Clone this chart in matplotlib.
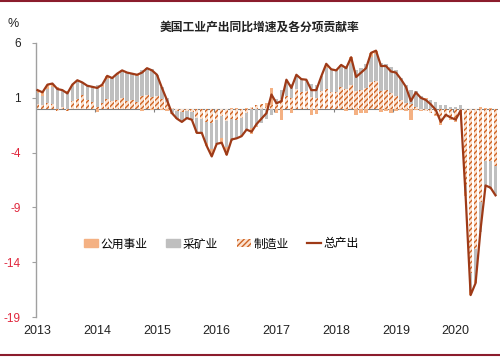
import numpy as np
import matplotlib
matplotlib.use('Agg')
import matplotlib.pyplot as plt
from matplotlib.lines import Line2D
from matplotlib.patches import Patch

plt.rcParams['font.family'] = ['Liberation Sans', 'Noto Sans CJK SC']
plt.rcParams['hatch.linewidth'] = 1.0

# monthly, Jan 2013 - Sep 2020
years = ['2013', '2014', '2015', '2016', '2017', '2018', '2019', '2020']

total = [1.7, 1.5, 2.2, 2.3, 1.8, 1.7, 1.4, 2.2, 2.6, 2.4, 2.1, 2.0,
         1.9, 2.2, 3.0, 2.8, 3.2, 3.5, 3.3, 3.2, 3.1, 3.3, 3.7, 3.5,
         3.1, 1.9, 0.8, -0.4, -0.9, -1.2, -0.85, -1.0, -2.2, -2.2, -3.4, -4.35,
         -3.2, -3.1, -4.2, -2.8, -2.7, -2.5, -1.9, -2.1, -1.4, -0.9, -0.4, 1.3,
         0.5, 0.7, 2.65, 1.9, 3.1, 2.7, 2.65, 1.7, 1.7, 2.95, 4.1, 3.6,
         3.5, 4.0, 3.7, 4.7, 2.9, 3.3, 3.7, 5.1, 5.3, 3.9, 3.9, 3.4,
         3.3, 2.7, 2.0, 0.7, 1.5, 1.0, 0.8, 0.4, -0.1, -1.2, -0.55, -0.8,
         -1.0, -0.15, -8.0, -17.0, -15.9, -11.0, -7.0, -7.2, -7.9]

manufacturing = [0.4, 0.3, 0.5, 0.4, -0.2, 0.2, -0.2, 0.7, 0.9, 1.3, 0.8, 0.6,
                 0.2, 0.5, 0.9, 0.7, 0.8, 1.0, 0.7, 0.8, 0.6, 1.2, 1.3, 1.1,
                 1.2, 0.9, 0.6, 0.1, -0.2, -0.3, -0.2, -0.3, -0.8, -0.9, -1.2, -1.3,
                 -1.0, -0.7, -1.1, -0.9, -1.0, -0.8, -0.4, 0.2, 0.3, 0.4, 0.2, 0.3,
                 0.6, 0.9, 1.2, 1.0, 1.8, 1.5, 1.6, 1.1, 1.0, 1.6, 1.8, 1.5,
                 1.5, 2.0, 1.8, 2.2, 1.6, 1.7, 1.9, 2.4, 2.5, 1.6, 1.7, 1.4,
                 1.2, 0.8, 0.5, 0.4, 0.2, -0.1, -0.2, -0.4, -0.6, -1.0, -0.8, -0.9,
                 -1.1, -0.3, -7.0, -15.0, -12.8, -8.5, -4.8, -4.8, -5.2]

mining = [1.0, 0.9, 1.3, 1.6, 1.8, 1.4, 1.5, 1.4, 1.5, 1.1, 1.3, 1.3,
          2.0, 1.5, 1.8, 2.1, 2.3, 2.4, 2.6, 2.4, 2.4, 2.3, 2.4, 2.5,
          1.9, 1.1, 0.4, -0.4, -0.6, -0.8, -0.6, -0.7, -1.3, -1.2, -1.9, -2.4,
          -2.2, -2.0, -2.4, -2.0, -1.8, -1.6, -1.6, -1.8, -1.6, -1.3, -0.9, -0.6,
          0.3, 0.8, 1.2, 1.3, 1.3, 1.2, 1.0, 1.2, 1.2, 1.4, 1.9, 2.0,
          1.9, 1.8, 2.1, 2.0, 1.9, 2.0, 2.2, 2.3, 2.5, 2.6, 2.4, 2.4,
          2.3, 2.0, 1.7, 1.3, 1.4, 1.2, 0.9, 0.8, 0.6, 0.3, 0.3, 0.2,
          0.2, 0.3, -0.6, -1.5, -2.8, -2.7, -2.3, -2.5, -2.7]

utilities = [0.3, 0.3, 0.4, 0.3, 0.2, 0.1, 0.1, 0.1, 0.2, 0.0, 0.0, 0.1,
             -0.3, 0.2, 0.3, 0.0, 0.1, 0.1, 0.0, 0.0, 0.1, -0.2, 0.0, -0.1,
             0.0, -0.1, -0.2, -0.1, -0.1, -0.1, -0.05, 0.0, -0.1, -0.1, -0.3, -0.65,
             0.0, -0.4, -0.7, 0.1, 0.1, -0.1, 0.1, -0.5, -0.1, 0.0, 0.3, 1.6,
             -0.4, -1.0, 0.25, -0.4, 0.0, 0.0, 0.05, -0.6, -0.5, -0.05, 0.4, 0.1,
             0.1, 0.2, -0.2, 0.5, -0.6, -0.4, -0.4, 0.4, 0.3, -0.3, -0.2, -0.4,
             -0.2, -0.1, -0.2, -1.0, -0.1, -0.1, 0.1, 0.0, -0.1, -0.5, -0.05, -0.1,
             -0.1, -0.15, -0.4, -0.5, -0.3, 0.2, 0.1, 0.1, 0.0]

yticks = [6, 1, -4, -9, -14, -19]

c_util = '#F4B183'
c_mining = '#BFBFBF'
c_manu = '#CF6424'
c_manu_face = '#FBE3D2'
c_total = '#9E3A17'
c_red = '#E0263C'

fig = plt.figure(figsize=(5, 3.6), dpi=100)
ax = fig.add_axes([0.072, 0.1194, 0.923, 0.7612])

x = np.arange(len(total))
pos = np.zeros(len(total))
neg = np.zeros(len(total))
series = [(manufacturing, dict(facecolor=c_manu_face, edgecolor=c_manu, hatch='//////', linewidth=0)),
          (mining, dict(color=c_mining, linewidth=0)),
          (utilities, dict(color=c_util, linewidth=0))]
for vals, style in series:
    v = np.array(vals)
    bottom = np.where(v >= 0, pos, neg)
    ax.bar(x, v, width=0.68, bottom=bottom, zorder=2, **style)
    pos = pos + np.clip(v, 0, None)
    neg = neg + np.clip(v, None, 0)

ax.axhline(0, color='#808080', lw=0.8, zorder=1)
ax.vlines(np.arange(11.5, len(total), 12), -0.3, 0, color='#808080', lw=0.8, zorder=1)
ax.plot(x, total, color=c_total, lw=1.6, zorder=3)

ax.set_xlim(-0.3, 92.4)
ax.set_ylim(-19, 6)
ax.set_yticks(yticks)
ax.set_yticklabels([str(t) for t in yticks])
for lab, t in zip(ax.get_yticklabels(), yticks):
    lab.set_color('#222222' if t > 0 else c_red)
ax.set_xticks(np.arange(0, len(total), 12))
ax.set_xticklabels(years)
ax.tick_params(axis='x', length=0, labelsize=9, pad=6, colors='#222222')
ax.tick_params(axis='y', length=3, width=0.8, color='#A0A0A0', labelsize=8.5, pad=8)

for s in ['top', 'right', 'bottom']:
    ax.spines[s].set_visible(False)
ax.spines['left'].set_color('#A0A0A0')
ax.spines['left'].set_linewidth(1.0)

handles = [Patch(color=c_util, label='公用事业'),
           Patch(color=c_mining, label='采矿业'),
           Patch(facecolor=c_manu_face, edgecolor=c_manu, hatch='//////', linewidth=0, label='制造业'),
           Line2D([], [], color=c_total, lw=1.6, label='总产出')]
ax.legend(handles=handles, loc='center left', bbox_to_anchor=(0.08, 0.265), ncol=4, frameon=False,
          fontsize=8.5, handlelength=1.2, handleheight=0.7, handletextpad=0.2, columnspacing=1.6)

fig.text(0.52, 0.922, '美国工业产出同比增速及各分项贡献率', ha='center', va='center',
         fontsize=8.5, fontweight='bold', color='#222222')
fig.text(0.026, 0.933, '%', ha='center', va='center', fontsize=9, color='#222222')

fig.add_artist(Line2D([0, 1], [0.996, 0.996], color='#8B1C2C', lw=1.5))
fig.add_artist(Line2D([0, 1], [0.014, 0.014], color='#8B1C2C', lw=1.5))

fig.savefig('out.png', dpi=100)
